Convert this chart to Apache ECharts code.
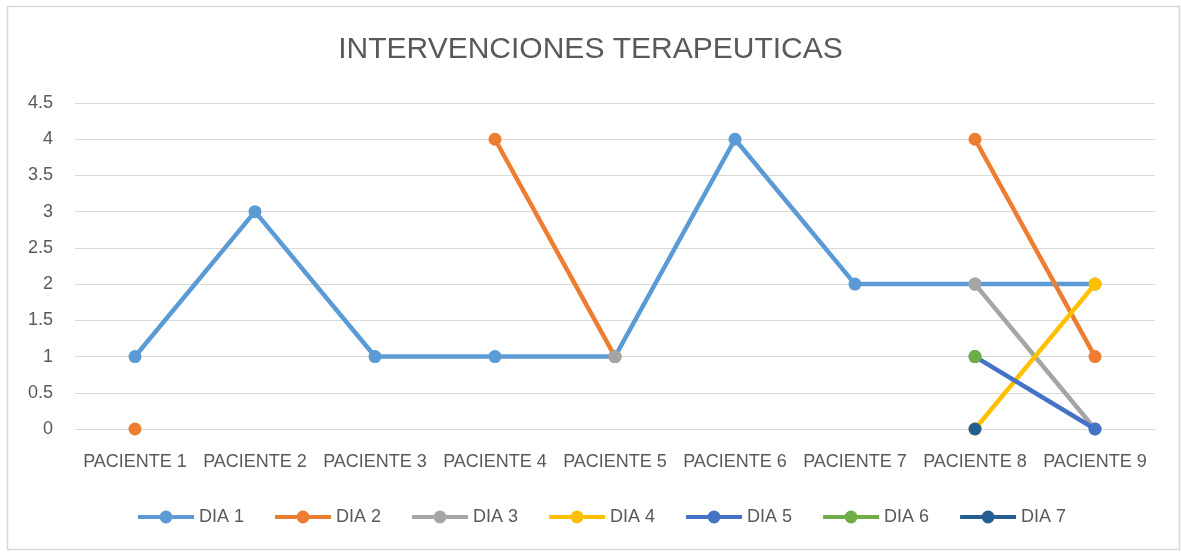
<!DOCTYPE html>
<html>
<head>
<meta charset="utf-8">
<script src="https://cdn.jsdelivr.net/npm/echarts@6/dist/echarts.min.js"></script>
<style>
html,body{margin:0;padding:0;background:#fff;}
#chart{width:1181px;height:552px;}
</style>
</head>
<body>
<div id="chart"></div>
<script>
const categories = ['PACIENTE 1','PACIENTE 2','PACIENTE 3','PACIENTE 4','PACIENTE 5','PACIENTE 6','PACIENTE 7','PACIENTE 8','PACIENTE 9'];
const dia1 = [1, 3, 1, 1, 1, 4, 2, 2, 2];
const dia2 = [0, null, null, 4, 1, null, null, 4, 1];
const dia3 = [null, null, null, null, 1, null, null, 2, 0];
const dia4 = [null, null, null, null, null, null, null, 0, 2];
const dia5 = [null, null, null, null, null, null, null, 1, 0];
const dia6 = [null, null, null, null, null, null, null, 1, null];
const dia7 = [null, null, null, null, null, null, null, 0, null];
const seriesNames = ['DIA 1','DIA 2','DIA 3','DIA 4','DIA 5','DIA 6','DIA 7'];
const seriesData = [dia1, dia2, dia3, dia4, dia5, dia6, dia7];
const colors = ['#5B9BD5','#ED7D31','#A5A5A5','#FFC000','#4472C4','#70AD47','#255E91'];

const font = 'Liberation Sans, Arial, sans-serif';
const legendIcon = 'path://M0,4.5L21.6,4.5L21.6,8.5L0,8.5Z M34.4,4.5L56,4.5L56,8.5L34.4,8.5Z M21.5,6.5A6.5,6.5 0 1 1 34.5,6.5A6.5,6.5 0 1 1 21.5,6.5Z';
const chart = echarts.init(document.getElementById('chart'), null, {renderer:'canvas'});
chart.setOption({
  animation: false,
  color: colors,
  graphic: [{
    type: 'rect', left: 5, top: 4, z: -10,
    shape: {width: 1172, height: 543},
    style: {fill: 'none', stroke: '#D9D9D9', lineWidth: 1.5}
  }],
  title: {
    text: 'INTERVENCIONES TERAPEUTICAS',
    left: 'center', top: 30,
    textStyle: {fontFamily: font, fontSize: 30, fontWeight: 'normal', color: '#595959'}
  },
  legend: {
    top: 503, left: 133,
    itemWidth: 56, itemHeight: 13, itemGap: 31,
    icon: legendIcon,
    textStyle: {fontFamily: font, fontSize: 18, color: '#595959'},
    data: seriesNames
  },
  grid: {left: 75, right: 26, top: 103, bottom: 123, containLabel: false},
  xAxis: {
    type: 'category',
    data: categories,
    boundaryGap: true,
    axisLine: {show: true, lineStyle: {color: '#D9D9D9', width: 1}},
    axisTick: {show: false},
    axisLabel: {interval: 0, fontFamily: font, fontSize: 18, color: '#595959', margin: 24}
  },
  yAxis: {
    type: 'value', min: 0, max: 4.5, interval: 0.5,
    axisLine: {show: false}, axisTick: {show: false},
    splitLine: {lineStyle: {color: '#D9D9D9', width: 1}},
    axisLabel: {fontFamily: font, fontSize: 18, color: '#595959', margin: 22}
  },
  series: seriesData.map((d, i) => ({
    name: seriesNames[i],
    type: 'line',
    data: d,
    connectNulls: false,
    symbol: 'circle',
    symbolSize: 13,
    lineStyle: {width: 4.5, color: colors[i]},
    itemStyle: {color: colors[i]},
    z: 2 + i
  }))
});
</script>
</body>
</html>
